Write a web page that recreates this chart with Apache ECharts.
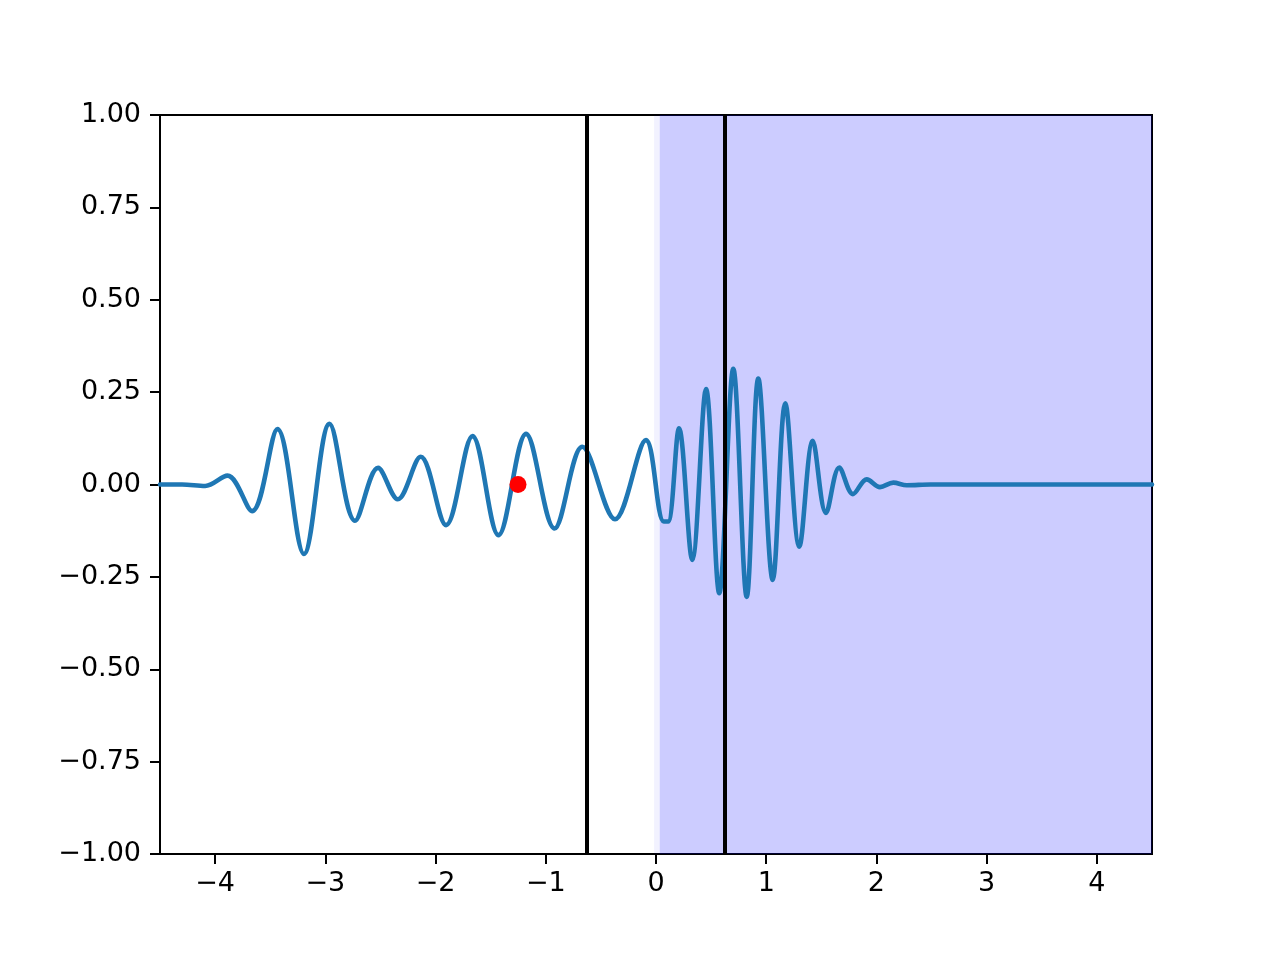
<!DOCTYPE html>
<html>
<head>
<meta charset="utf-8">
<script src="https://cdn.jsdelivr.net/npm/echarts@6/dist/echarts.min.js"></script>
<style>html,body{margin:0;padding:0;background:#fff;}#c{width:1280px;height:960px;}</style>
</head>
<body>
<div id="c"></div>
<script>
// x tick labels and y tick labels
const xTicks = [-4, -3, -2, -1, 0, 1, 2, 3, 4];
const yTicks = [-1, -0.75, -0.5, -0.25, 0, 0.25, 0.5, 0.75, 1];
// curve samples (x, y): flat ends and the peaks / troughs
const curveX = [-4.5, -4.3, -4.09, -3.888, -3.665, -3.434, -3.194, -2.962, -2.731, -2.522, -2.343, -2.135, -1.905, -1.665, -1.429, -1.179, -0.921, -0.669, -0.372, -0.091, 0.07, 0.11, 0.209, 0.329, 0.454, 0.574, 0.701, 0.823, 0.928, 1.059, 1.173, 1.300, 1.422, 1.542, 1.663, 1.787, 1.912, 2.032, 2.153, 2.275, 2.49, 4.5];
const curveY = [0, 0, -0.004, 0.024, -0.072, 0.150, -0.188, 0.164, -0.098, 0.045, -0.040, 0.075, -0.110, 0.131, -0.137, 0.137, -0.119, 0.102, -0.094, 0.120, -0.10, -0.10, 0.152, -0.204, 0.258, -0.294, 0.313, -0.304, 0.287, -0.258, 0.220, -0.168, 0.118, -0.077, 0.046, -0.026, 0.014, -0.007, 0.005, -0.002, 0.0, 0];
// vertical lines
const vLines = [-0.63, 0.62];
// shaded spans [from, to]
const spanFaint = [-0.018, 0.034];
const spanMain = [0.034, 4.5];
// red marker
const point = [-1.252, 0];

const minus = s => String(s).replace('-', '\u2212');
const font = 'DejaVu Sans';
const chart = echarts.init(document.getElementById('c'));
chart.setOption({
  animation: false,
  backgroundColor: '#fff',
  grid: {left: 160, top: 115, width: 992, height: 739, show: true, borderColor: '#000', borderWidth: 2, backgroundColor: 'transparent'},
  xAxis: {
    type: 'value', min: -4.5, max: 4.5,
    axisLine: {show: true, onZero: false, lineStyle: {color: '#000', width: 2}},
    axisTick: {show: true, length: 10, lineStyle: {color: '#000', width: 2}, customValues: xTicks},
    axisLabel: {customValues: xTicks, color: '#000', fontFamily: font, fontSize: 27, margin: 16, formatter: v => minus(v)},
    splitLine: {show: false}
  },
  yAxis: {
    type: 'value', min: -1, max: 1, interval: 0.25,
    axisLine: {show: true, onZero: false, lineStyle: {color: '#000', width: 2}},
    axisTick: {show: true, length: 10, lineStyle: {color: '#000', width: 2}},
    axisLabel: {color: '#000', fontFamily: font, fontSize: 27, margin: 19, formatter: v => minus(v.toFixed(2))},
    splitLine: {show: false}
  },
  series: [
    {
      type: 'line', data: [], z: 1, silent: true,
      markArea: {silent: true, data: [
        [{xAxis: spanFaint[0], itemStyle: {color: 'rgba(0,0,255,0.05)'}}, {xAxis: spanFaint[1]}],
        [{xAxis: spanMain[0], itemStyle: {color: 'rgba(0,0,255,0.2)'}}, {xAxis: spanMain[1]}]
      ]}
    },
    {
      type: 'line', z: 2, showSymbol: false, symbol: 'none', smooth: 0.35,
      data: curveX.map((x, i) => [x, curveY[i]]),
      lineStyle: {color: '#1f77b4', width: 4.6, cap: 'round', join: 'round'}
    },
    {
      type: 'line', data: [], z: 3, silent: true,
      markLine: {silent: true, symbol: ['none', 'none'], label: {show: false},
        lineStyle: {color: '#000', width: 4, type: 'solid'},
        data: vLines.map(v => ({xAxis: v}))}
    },
    {
      type: 'scatter', z: 4, data: [point], symbolSize: 17, itemStyle: {color: '#ff0000', opacity: 1}
    }
  ]
});
</script>
</body>
</html>
